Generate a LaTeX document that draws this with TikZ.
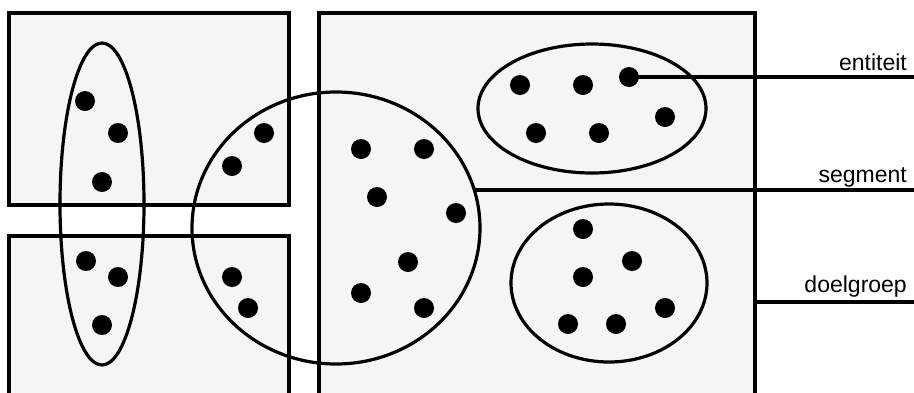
\documentclass[tikz,border=0pt]{standalone}
\usepackage{fontspec}
\setmainfont{Liberation Sans}
\begin{document}
\begin{tikzpicture}[x=1pt,y=-1pt,
  box/.style={draw=black,line width=3.8pt,fill=black!4},
  ring/.style={draw=black,line width=3.2pt},
  dot/.style={circle,fill=black,inner sep=0pt,minimum size=20pt},
  link/.style={draw=black,line width=3.5pt},
  lbl/.style={anchor=base east,inner sep=0pt,font=\fontsize{23}{27}\selectfont}]
\useasboundingbox (0,0) rectangle (914,392);
\clip (0,0) rectangle (914,392);
% boxes
\path[box] (9,13) rectangle (289,205);
\path[box] (9,236) rectangle (289,420);
\path[box] (319,13) rectangle (755,420);
% groupings
\path[ring] (102,204) ellipse [x radius=42pt, y radius=161pt];
\path[ring] (336,228) ellipse [x radius=144pt, y radius=136pt];
\path[ring] (592,108.5) ellipse [x radius=114pt, y radius=64.5pt];
\path[ring] (609,283) ellipse [x radius=98pt, y radius=79pt];
% entities
\foreach \n/\p in {a1/{(85,101)},a2/{(118,133)},a3/{(102,182)},
  a4/{(86,261)},a5/{(118,277)},a6/{(102,325)},
  b1/{(264,133)},b2/{(232,166)},b3/{(232,277)},b4/{(248,308)},
  b5/{(361,149)},b6/{(424,149)},b7/{(377,197)},b8/{(456,213)},
  b9/{(408,262)},b10/{(361,293)},b11/{(424,308)},
  c1/{(520,85)},c2/{(583,85)},c3/{(629,77)},c4/{(536,133)},c5/{(599,133)},c6/{(665,117)},
  e1/{(583,229)},e2/{(632,261)},e3/{(583,277)},e4/{(665,308)},e5/{(568,324)},e6/{(616,324)}}
  {\node[dot] (\n) at \p {};}
% labels
\node[lbl] (lent) at (907,70) {entiteit};
\node[lbl] (lseg) at (907,182) {segment};
\node[lbl] (ldoel) at (907,292) {doelgroep};
% connectors
\coordinate (entEnd) at (914,77);
\coordinate (segStart) at (473,190);
\coordinate (segEnd) at (914,190);
\coordinate (doelStart) at (755,302);
\coordinate (doelEnd) at (914,302);
\path[link] (c3.center) -- (entEnd);
\path[link] (segStart) -- (segEnd);
\path[link] (doelStart) -- (doelEnd);
\end{tikzpicture}
\end{document}
